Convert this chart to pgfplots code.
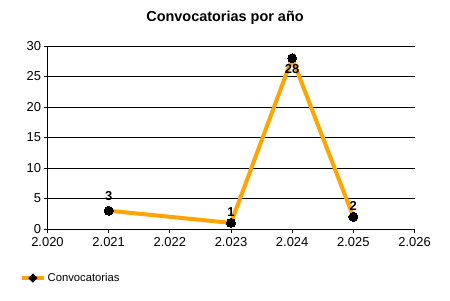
\documentclass[border=0pt]{standalone}
\usepackage{pgfplots}
\pgfplotsset{compat=1.18}
\usepackage{fontspec}
\setmainfont{Liberation Sans}
\definecolor{serieorange}{HTML}{FFA500}
\pgfplotstableread{
x y
2021 3
2023 1
2024 28
2025 2
}\datatable
\begin{document}
\begin{tikzpicture}[x=1bp,y=1bp]
\useasboundingbox (-47.5,-71) rectangle (402.5,229);
\node[font=\bfseries\fontsize{14.5}{16}\selectfont, anchor=center] at (177.5,211) {Convocatorias por año};
\begin{axis}[
  at={(0,0)}, anchor=origin,
  scale only axis, width=367bp, height=183bp,
  xmin=2020, xmax=2026, ymin=0, ymax=30,
  xtick={2020,2021,2022,2023,2024,2025,2026},
  xticklabels={2.020,2.021,2.022,2.023,2.024,2.025,2.026},
  ytick={0,5,10,15,20,25,30},
  axis x line*=bottom, axis y line*=left,
  axis line style={black, line width=0.8pt, -},
  tick style={black, line width=0.8pt},
  tick align=outside, major tick length=4bp,
  ymajorgrids, grid style={black, line width=0.6pt},
  tick label style={font=\fontsize{13}{15}\selectfont},
  xticklabel style={yshift=-1bp},
  yticklabel style={xshift=1bp},
  /pgf/number format/assume math mode=true,
  legend style={at={(-0.075,-0.268)}, anchor=west, draw=none, fill=none,
    font=\fontsize{11.3}{13}\selectfont, inner sep=0pt},
  legend cell align=left,
  legend image code/.code={
    \draw[serieorange, line width=3.5bp] (0bp,0bp) -- (22bp,0bp);
    \fill[black] (11bp,0bp) circle (1.8bp);
  },
  clip=false,
]
\addplot[serieorange, line width=4bp, mark=*, mark size=4.5bp,
  mark options={fill=black, draw=black, line width=0pt}] table[x=x,y=y] {\datatable};
\addlegendentry{Convocatorias}
\node[font=\bfseries\fontsize{13}{15}\selectfont, anchor=south] at (axis cs:2021,4.0) {3};
\node[font=\bfseries\fontsize{13}{15}\selectfont, anchor=south] at (axis cs:2023,1.4) {1};
\node[font=\bfseries\fontsize{13}{15}\selectfont, anchor=north] at (axis cs:2024,27.6) {28};
\node[font=\bfseries\fontsize{13}{15}\selectfont, anchor=south] at (axis cs:2025,2.4) {2};
\end{axis}
\end{tikzpicture}
\end{document}
